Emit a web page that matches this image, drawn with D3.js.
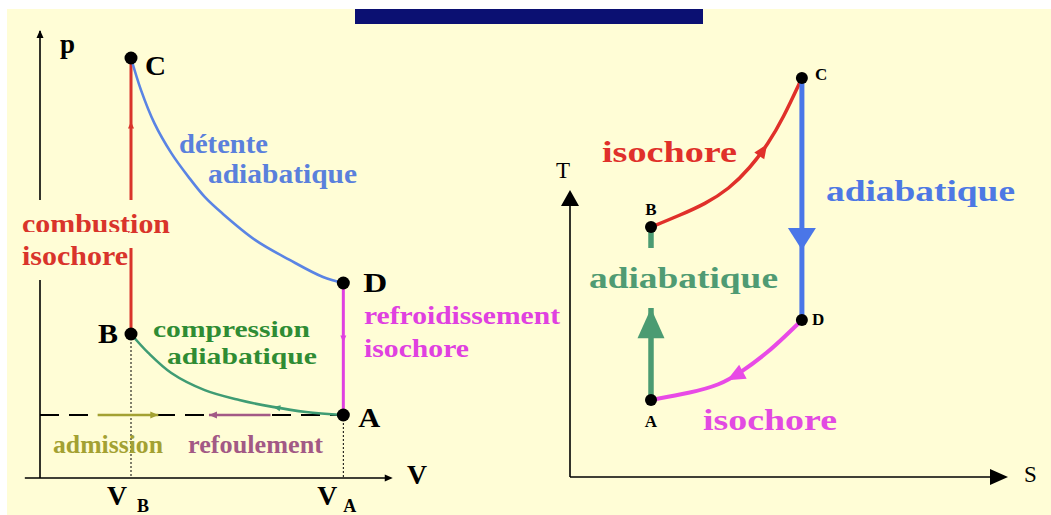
<!doctype html>
<html lang="fr">
<head>
<meta charset="utf-8">
<title>Cycle de Beau de Rochas</title>
<style>
  body { margin: 0; background: #fff; }
  svg { display: block; }
  text { font-family: "Liberation Serif", "Times New Roman", serif; font-weight: bold; }
  text.regular { font-weight: normal; }
  .axis { stroke: #000; stroke-width: 1.6; fill: none; }
  .guide { stroke: #000; stroke-width: 1; stroke-dasharray: 2,2; fill: none; }
  .dot { fill: #000; }
</style>
</head>
<body>
<script src="https://d3js.org/d3.v7.min.js"></script>
<script>
// ---- data : P-V diagram (arbitrary units) ----
const pvStates = [
  { name: "A", V: 10, p: 2.1 },
  { name: "B", V: 3,  p: 4.8 },
  { name: "C", V: 3,  p: 14 },
  { name: "D", V: 10, p: 6.5 }
];
// C -> D
const pvExpansion = [[3, 14], [3.33, 12.93], [3.77, 11.83], [4.33, 10.83], [4.9, 10.03], [5.43, 9.37],
  [6, 8.83], [7.1, 7.93], [8.23, 7.27], [9.33, 6.7], [10, 6.5]];
// A -> B
const pvCompression = [[10, 2.1], [8.77, 2.2], [7.67, 2.37], [6.57, 2.6], [5.43, 2.93], [4.33, 3.5],
  [3.57, 4.17], [3, 4.8]];
const pvIntake = [1.9, 3.9];    // admission arrow, V from -> to
const pvExhaust = [7.6, 5.57];  // refoulement arrow
const pvLabels = ["détente", "adiabatique", "combustion", "isochore", "compression", "adiabatique",
  "refroidissement", "isochore", "admission", "refoulement"];

// ---- data : T-S diagram ----
const tsStates = [
  { name: "A", S: 2.7,  T: 2.57 },
  { name: "B", S: 2.7,  T: 8.33 },
  { name: "C", S: 7.73, T: 13.3 },
  { name: "D", S: 7.73, T: 5.23 }
];
const tsHeating = [[2.7, 8.33], [3.67, 8.73], [4.5, 9.1], [5.3, 9.6], [6.0, 10.3], [6.6, 11.1],
  [7.1, 11.95], [7.73, 13.3]];
const tsCooling = [[7.73, 5.23], [7.23, 4.75], [6.57, 4.13], [5.67, 3.47], [5.0, 3.07], [4.0, 2.8], [2.7, 2.57]];
const tsLabels = ["isochore", "adiabatique", "adiabatique", "isochore"];

const W = 1051, H = 515;
const bg = "#fffdd6";

const svg = d3.select("body").append("svg").attr("width", W).attr("height", H);
svg.append("rect").attr("width", W).attr("height", H).attr("fill", "#fff");
svg.append("rect").attr("x", 7).attr("y", 9).attr("width", W - 7).attr("height", H - 9).attr("fill", bg);
svg.append("rect").attr("x", 355).attr("y", 9).attr("width", 348).attr("height", 15).attr("fill", "#0b1072");

function arrowHead(g, tip, ang, len, half, color) {
  g.append("path")
    .attr("d", `M0,0L${-len},${-half}L${-len},${half}Z`)
    .attr("transform", `translate(${tip[0]},${tip[1]}) rotate(${ang * 180 / Math.PI})`)
    .attr("fill", color);
}
function headAlong(g, node, frac, len, half, color) {
  const L = node.getTotalLength();
  const p = node.getPointAtLength(L * frac);
  const q = node.getPointAtLength(Math.max(0, L * frac - 2));
  arrowHead(g, [p.x, p.y], Math.atan2(p.y - q.y, p.x - q.x), len, half, color);
}
function label(g, txt, x, y, o) {
  const t = g.append("text").attr("x", x).attr("y", y).text(txt)
    .attr("font-size", o.size).attr("fill", o.color || "#000");
  if (o.width) t.attr("textLength", o.width).attr("lengthAdjust", "spacingAndGlyphs");
  if (o.anchor) t.attr("text-anchor", o.anchor);
  if (o.regular) t.attr("class", "regular");
  return t;
}
function knockout(g, t, padX, padY) {
  const b = t.node().getBBox();
  g.insert("rect", () => t.node())
    .attr("x", b.x - padX).attr("y", b.y - padY)
    .attr("width", b.width + 2 * padX).attr("height", b.height + 2 * padY)
    .attr("fill", bg);
}

// ================= P-V =================
const pvX = d3.scaleLinear().domain([0, 12]).range([40, 404]);
const pvY = d3.scaleLinear().domain([0, 14]).range([478, 58]);
const pv = svg.append("g");
const st = Object.fromEntries(pvStates.map(d => [d.name, d]));
const pvLine = d3.line().x(d => pvX(d[0])).y(d => pvY(d[1])).curve(d3.curveCatmullRom.alpha(0.5));

// axes
pv.append("line").attr("class", "axis").attr("x1", pvX(-0.5)).attr("x2", pvX(11.55))
  .attr("y1", pvY(0)).attr("y2", pvY(0));
arrowHead(pv, [pvX(11.63), pvY(0)], 0, 8, 3.5, "#000");
pv.append("line").attr("class", "axis").attr("x1", pvX(0)).attr("x2", pvX(0))
  .attr("y1", pvY(0)).attr("y2", pvY(14.9));
arrowHead(pv, [pvX(0), pvY(14.93)], -Math.PI / 2, 8, 3.5, "#000");

// guides
[st.B, st.A].forEach(d => pv.append("line").attr("class", "guide")
  .attr("x1", pvX(d.V)).attr("x2", pvX(d.V)).attr("y1", pvY(d.p)).attr("y2", pvY(0)));

// intake / exhaust line
pv.append("line").attr("x1", pvX(0)).attr("x2", pvX(st.A.V)).attr("y1", pvY(st.A.p)).attr("y2", pvY(st.A.p))
  .attr("stroke", "#000").attr("stroke-width", 2).attr("stroke-dasharray", "19,10");
const intake = pv.append("path").attr("d", pvLine(pvIntake.map(v => [v, st.A.p])))
  .attr("stroke", "#a3a132").attr("stroke-width", 2.4).attr("fill", "none");
headAlong(pv, intake.node(), 1, 8, 3.5, "#a3a132");
const exhaust = pv.append("path").attr("d", pvLine(pvExhaust.map(v => [v, st.A.p])))
  .attr("stroke", "#a25985").attr("stroke-width", 2.4).attr("fill", "none");
headAlong(pv, exhaust.node(), 1, 8, 3.5, "#a25985");

// cycle
const red = pv.append("path").attr("d", pvLine([[st.B.V, st.B.p], [st.C.V, st.C.p]]))
  .attr("stroke", "#d9342b").attr("stroke-width", 3).attr("fill", "none");
const blue = pv.append("path").attr("d", pvLine(pvExpansion))
  .attr("stroke", "#5a84e4").attr("stroke-width", 2.6).attr("fill", "none");
const mag = pv.append("path").attr("d", pvLine([[st.D.V, st.D.p], [st.A.V, st.A.p]]))
  .attr("stroke", "#e040e0").attr("stroke-width", 3).attr("fill", "none");
const green = pv.append("path").attr("d", pvLine(pvCompression))
  .attr("stroke", "#3f9c74").attr("stroke-width", 2.6).attr("fill", "none");
headAlong(pv, red.node(), 0.77, 7, 3, "#d9342b");
headAlong(pv, mag.node(), 0.45, 7, 3, "#e040e0");
headAlong(pv, green.node(), 0.3, 7, 3, "#3f9c74");

// labels
const lblBlue = "#5a80dc", lblRed = "#d9342b", lblGreen = "#2f8c34", lblMag = "#e040e0";
label(pv, pvLabels[0], 179, 153, { size: 27, color: lblBlue, width: 89 });
label(pv, pvLabels[1], 208, 183, { size: 27, color: lblBlue, width: 149 });
const comb1 = label(pv, pvLabels[2], 22, 233, { size: 27, color: lblRed, width: 148 });
const comb2 = label(pv, pvLabels[3], 22, 265, { size: 27, color: lblRed, width: 106 });
knockout(pv, comb1, 0, 9);
knockout(pv, comb2, 0, 9);
label(pv, pvLabels[4], 153, 337, { size: 24, color: lblGreen, width: 157 });
label(pv, pvLabels[5], 167, 364, { size: 24, color: lblGreen, width: 150 });
label(pv, pvLabels[6], 364, 324, { size: 26, color: lblMag, width: 196 });
label(pv, pvLabels[7], 364, 357, { size: 26, color: lblMag, width: 105 });
label(pv, pvLabels[8], 53, 453, { size: 25, color: "#a3a132", width: 110 });
label(pv, pvLabels[9], 188, 453, { size: 25, color: "#a25985", width: 135 });

// points
pv.selectAll("circle").data(pvStates).join("circle").attr("class", "dot")
  .attr("cx", d => pvX(d.V)).attr("cy", d => pvY(d.p)).attr("r", 6.5);
label(pv, "C", pvX(st.C.V) + 14, pvY(st.C.p) + 17, { size: 27, width: 21 });
label(pv, "B", pvX(st.B.V) - 33, pvY(st.B.p) + 9, { size: 27, width: 20 });
label(pv, "D", pvX(st.D.V) + 20, pvY(st.D.p) + 9, { size: 27, width: 24 });
label(pv, "A", pvX(st.A.V) + 15, pvY(st.A.p) + 12, { size: 27, width: 22 });

label(pv, "p", pvX(0) + 20, pvY(14.5) + 10, { size: 27 });
label(pv, "V", pvX(12.1), pvY(0) + 6, { size: 27, width: 20 });
label(pv, "V", pvX(st.B.V) - 24, 505, { size: 27, width: 20 });
label(pv, "B", pvX(st.B.V) + 6, 512, { size: 18 });
label(pv, "V", pvX(st.A.V) - 26, 505, { size: 27, width: 20 });
label(pv, "A", pvX(st.A.V), 512, { size: 18 });

// ================= T-S =================
const tsX = d3.scaleLinear().domain([0, 15]).range([570, 1020]);
const tsY = d3.scaleLinear().domain([0, 14]).range([477, 57]);
const ts = svg.append("g");
const sp = Object.fromEntries(tsStates.map(d => [d.name, d]));
const tsLine = d3.line().x(d => tsX(d[0])).y(d => tsY(d[1])).curve(d3.curveBasis);
const tsSeg = d3.line().x(d => tsX(d[0])).y(d => tsY(d[1]));

ts.append("line").attr("class", "axis").attr("stroke-width", 2)
  .attr("x1", tsX(0)).attr("x2", tsX(14.2)).attr("y1", tsY(0)).attr("y2", tsY(0));
arrowHead(ts, [tsX(14.6), tsY(0)], 0, 18, 8, "#000");
ts.append("line").attr("class", "axis").attr("stroke-width", 2)
  .attr("x1", tsX(0)).attr("x2", tsX(0)).attr("y1", tsY(0)).attr("y2", tsY(9.2));
arrowHead(ts, [tsX(0), tsY(9.57)], -Math.PI / 2, 16, 9, "#000");
label(ts, "T", tsX(0) - 14, tsY(9.97), { size: 23, regular: true });
label(ts, "S", tsX(15.13), tsY(-0.17), { size: 23, regular: true });

const tGreen = ts.append("path").attr("d", tsSeg([[sp.A.S, sp.A.T], [sp.B.S, sp.B.T]]))
  .attr("stroke", "#4b9b72").attr("stroke-width", 5.5).attr("fill", "none");
const tRed = ts.append("path").attr("d", tsLine(tsHeating))
  .attr("stroke", "#e0302a").attr("stroke-width", 3.5).attr("fill", "none");
const tBlue = ts.append("path").attr("d", tsSeg([[sp.C.S, sp.C.T], [sp.D.S, sp.D.T]]))
  .attr("stroke", "#4a76e8").attr("stroke-width", 5).attr("fill", "none");
const tMag = ts.append("path").attr("d", tsLine(tsCooling))
  .attr("stroke", "#e84ae6").attr("stroke-width", 4).attr("fill", "none");

const gLbl = label(ts, tsLabels[2], 589, 288, { size: 29, color: "#4f9b73", width: 189 });
knockout(ts, gLbl, 0, 14);
headAlong(ts, tGreen.node(), 0.53, 30, 13.5, "#4b9b72");
headAlong(ts, tRed.node(), 0.66, 14, 6, "#e0302a");
headAlong(ts, tBlue.node(), 0.71, 22, 14, "#4a76e8");
headAlong(ts, tMag.node(), 0.55, 18, 8, "#e84ae6");

label(ts, tsLabels[0], 602, 162, { size: 30, color: "#e0302a", width: 135 });
label(ts, tsLabels[1], 826, 201, { size: 29, color: "#4d78e4", width: 189 });
label(ts, tsLabels[3], 703, 430, { size: 30, color: "#e24ae2", width: 134 });

ts.selectAll("circle").data(tsStates).join("circle").attr("class", "dot")
  .attr("cx", d => tsX(d.S)).attr("cy", d => tsY(d.T)).attr("r", 6);
label(ts, "B", tsX(sp.B.S), tsY(sp.B.T) - 12, { size: 17, anchor: "middle" });
label(ts, "C", tsX(sp.C.S) + 13, tsY(sp.C.T) + 2, { size: 17 });
label(ts, "D", tsX(sp.D.S) + 10, tsY(sp.D.T) + 5, { size: 17 });
label(ts, "A", tsX(sp.A.S), tsY(sp.A.T) + 27, { size: 17, anchor: "middle" });
</script>
</body>
</html>
